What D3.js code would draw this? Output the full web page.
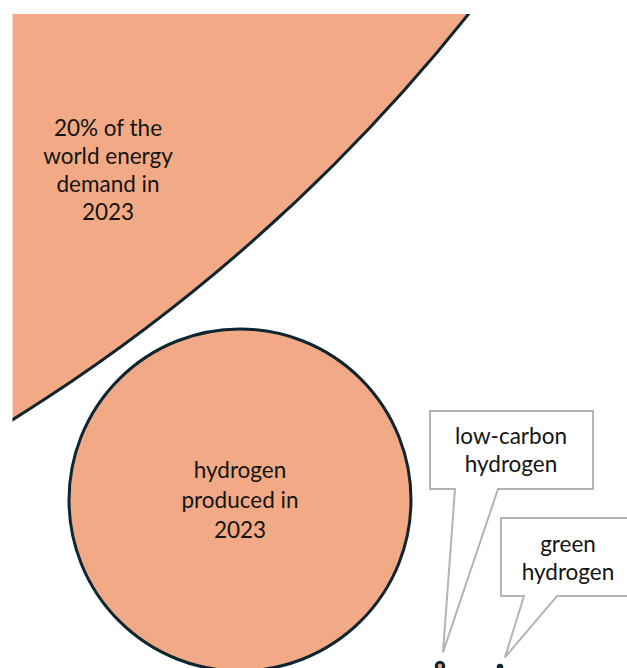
<!DOCTYPE html>
<html>
<head>
<meta charset="utf-8">
<script src="https://cdn.jsdelivr.net/npm/d3@7"></script>
<style>
  html, body { margin: 0; padding: 0; background: #fff; }
  svg { display: block; }
</style>
</head>
<body>
<div id="chart"></div>
<script>
// Data - bubble sizes (radius grows linearly with value)
var labels = [
  ['20% of the', 'world energy', 'demand in', '2023'],
  ['hydrogen', 'produced in', '2023'],
  ['low-carbon', 'hydrogen'],
  ['green', 'hydrogen']
]
var values = [122, 11.6, 0.25, 0.12]
var calloutFor = [false, false, true, true]

var width = 627, height = 668

var svg = d3.select('#chart').append('svg')
  .attr('width', width)
  .attr('height', height)
  .style('font-family', 'Lato, "Open Sans", sans-serif')

// the original is cropped a bit at top and left
svg.append('clipPath').attr('id', 'crop')
  .append('rect')
  .attr('x', 12.5).attr('y', 14)
  .attr('width', width).attr('height', height)

var r = d3.scaleLinear().domain([0, values[1]]).range([0, 171])

// layout: hydrogen bubble is the anchor, big bubble sits up-left of it with a small gap
var anchor = {x: 240, y: 500}
var gap = 23
var angle = Math.atan2(-1605, -1176)
var small = [{x: 440, y: 666}, {x: 500, y: 667}]

var nodes = values.map(function(v, i) {
  return {value: v, label: labels[i], callout: calloutFor[i], r: r(v)}
})
nodes[1].x = anchor.x; nodes[1].y = anchor.y
var d0 = nodes[0].r + nodes[1].r + gap
nodes[0].x = anchor.x + d0 * Math.cos(angle)
nodes[0].y = anchor.y + d0 * Math.sin(angle)
nodes[2].x = small[0].x; nodes[2].y = small[0].y
nodes[3].x = small[1].x; nodes[3].y = small[1].y

var g = svg.append('g').attr('clip-path', 'url(#crop)')

// callout boxes, tips point at the tiny bubbles
var boxes = [
  {x0: 430, y0: 411, x1: 593, y1: 489, tl: 455, tr: 498, tx: 511, ty: 444},
  {x0: 501, y0: 518, x1: 645, y1: 596, tl: 524, tr: 557, tx: 568, ty: 552}
]
var fontSize = 22.5
var calloutNodes = nodes.filter(function(d) { return d.callout })
calloutNodes.forEach(function(d, i) {
  var b = boxes[i]
  var tip = [d.x + (i == 0 ? 3 : 5), d.y - d.r - (i == 0 ? 10 : 8)]
  var p = d3.path()
  p.moveTo(b.x0, b.y0)
  p.lineTo(b.x1, b.y0)
  p.lineTo(b.x1, b.y1)
  p.lineTo(b.tr, b.y1)
  p.lineTo(tip[0], tip[1])
  p.lineTo(b.tl, b.y1)
  p.lineTo(b.x0, b.y1)
  p.closePath()
  g.append('path')
    .attr('d', p.toString())
    .attr('fill', '#fff')
    .attr('stroke', '#b4b4b4')
    .attr('stroke-width', 2)
  var t = g.append('text')
    .attr('text-anchor', 'middle')
    .attr('font-size', fontSize)
    .attr('fill', '#141414')
  d.label.forEach(function(line, k) {
    t.append('tspan').attr('x', b.tx).attr('y', b.ty + k * 28).text(line)
  })
})

g.selectAll('circle.bubble')
  .data(nodes)
  .join('circle')
  .attr('class', 'bubble')
  .attr('cx', d => d.x)
  .attr('cy', d => d.y)
  .attr('r', d => d.r)
  .attr('fill', '#f1aa85')
  .attr('stroke', '#0e2532')
  .attr('stroke-width', 3)

// labels inside the two big bubbles
var inner = [
  {x: 108, y: 136, dy: 28},
  {x: 240, y: 478, dy: 30}
]
nodes.filter(function(d) { return !d.callout }).forEach(function(d, i) {
  var t = g.append('text')
    .attr('text-anchor', 'middle')
    .attr('font-size', fontSize)
    .attr('fill', '#141414')
  d.label.forEach(function(line, k) {
    t.append('tspan').attr('x', inner[i].x).attr('y', inner[i].y + k * inner[i].dy).text(line)
  })
})
</script>
</body>
</html>
